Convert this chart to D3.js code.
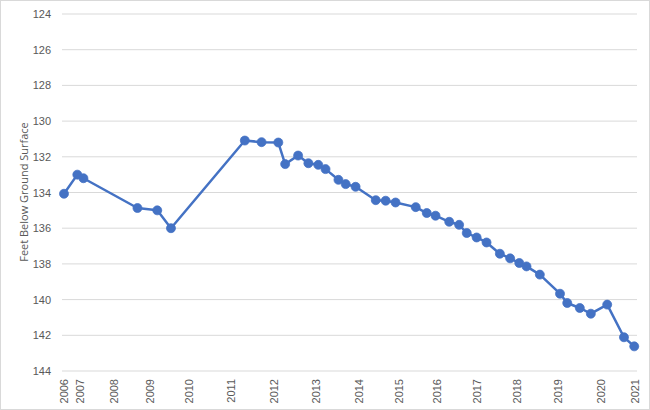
<!DOCTYPE html>
<html>
<head>
<meta charset="utf-8">
<script src="https://cdn.jsdelivr.net/npm/d3@7"></script>
<style>
  body { margin: 0; background: #fff; }
  svg { font-family: "Open Sans", "Noto Sans", sans-serif; }
</style>
</head>
<body>
<svg id="chart" width="650" height="410"></svg>
<script>
// measurement dates as decimal years
var dates = [2006.0, 2006.35, 2006.51, 2007.93, 2008.45, 2008.81, 2010.75, 2011.19, 2011.63, 2011.81,
  2012.15, 2012.42, 2012.68, 2012.87, 2013.21, 2013.40, 2013.66, 2014.19, 2014.45, 2014.71,
  2015.24, 2015.53, 2015.76, 2016.12, 2016.38, 2016.58, 2016.84, 2017.10, 2017.45, 2017.72,
  2017.96, 2018.15, 2018.50, 2019.03, 2019.22, 2019.55, 2019.84, 2020.27, 2020.71, 2020.98]
// depth to water, feet below ground surface
var depths = [134.07, 133.0, 133.2, 134.87, 135.0, 136.0, 131.09, 131.18, 131.2, 132.41,
  131.93, 132.36, 132.45, 132.69, 133.29, 133.53, 133.68, 134.43, 134.46, 134.56,
  134.82, 135.15, 135.3, 135.64, 135.81, 136.27, 136.52, 136.8, 137.43, 137.69,
  137.95, 138.14, 138.6, 139.67, 140.19, 140.47, 140.79, 140.28, 142.11, 142.62]

// x axis labels and where they sit
var yearLabels = ['2006','2007','2008','2009','2010','2011','2012','2013','2014','2015','2016','2017','2018','2019','2020','2021']
var yearPos = [2006.0, 2006.42, 2007.31, 2008.26, 2009.28, 2010.39, 2011.52, 2012.62, 2013.75, 2014.80,
  2015.80, 2016.85, 2017.90, 2018.98, 2020.11, 2021.0]
var yTicks = [124, 126, 128, 130, 132, 134, 136, 138, 140, 142, 144]

var data = dates.map(function(d, i) { return {date: d, depth: depths[i]} })

var svg = d3.select('#chart')

svg.append('rect')
  .attr('x', 0.5).attr('y', 0.5)
  .attr('width', 649).attr('height', 409)
  .attr('fill', '#fff')
  .attr('stroke', '#d9d9d9')

var x = d3.scaleLinear().domain([2006, 2021]).range([64, 635])
var y = d3.scaleLinear().domain([124, 144]).range([14, 371])

// gridlines
svg.append('g')
  .selectAll('line')
  .data(yTicks)
  .join('line')
  .attr('x1', 62).attr('x2', 637)
  .attr('y1', function(d) { return y(d) })
  .attr('y2', function(d) { return y(d) })
  .attr('stroke', '#d9d9d9')
  .attr('stroke-width', 1)

// y axis labels
var yAxis = d3.axisLeft(y).tickValues(yTicks).tickSize(0).tickPadding(0)
var gy = svg.append('g').attr('transform', 'translate(51,0)').call(yAxis)
gy.select('.domain').remove()
gy.selectAll('text').attr('fill', '#595959').style('font-size', '11px')

// x axis labels, rotated
var xAxis = d3.axisBottom(x).tickValues(yearPos)
  .tickFormat(function(d, i) { return yearLabels[i] })
  .tickSize(0)
var gx = svg.append('g').attr('transform', 'translate(0,371)').call(xAxis)
gx.select('.domain').remove()
gx.selectAll('text')
  .attr('fill', '#595959')
  .style('font-size', '11px')
  .attr('text-anchor', 'end')
  .attr('dy', '0.35em')
  .attr('transform', 'translate(0,8) rotate(-90)')
  .attr('y', 0).attr('x', 0)

// axis title
svg.append('text')
  .attr('transform', 'translate(28,192) rotate(-90)')
  .attr('text-anchor', 'middle')
  .attr('fill', '#595959')
  .style('font-size', '11px')
  .text('Feet Below Ground Surface')

var line = d3.line()
  .x(function(d) { return x(d.date) })
  .y(function(d) { return y(d.depth) })

svg.append('path')
  .datum(data)
  .attr('d', line)
  .attr('fill', 'none')
  .attr('stroke', '#4472c4')
  .attr('stroke-width', 2.5)
  .attr('stroke-linejoin', 'round')

svg.append('g')
  .selectAll('circle')
  .data(data)
  .join('circle')
  .attr('cx', function(d) { return x(d.date) })
  .attr('cy', function(d) { return y(d.depth) })
  .attr('r', 4.5)
  .attr('fill', '#4472c4')
  .attr('stroke', '#4472c4')
  .attr('stroke-width', 0.75)
</script>
</body>
</html>
